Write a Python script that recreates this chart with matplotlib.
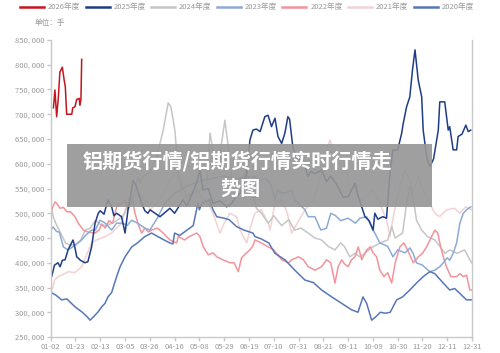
import matplotlib
matplotlib.use("Agg")
import matplotlib.pyplot as plt
from matplotlib.lines import Line2D
from matplotlib.patches import Rectangle
from matplotlib.ticker import FuncFormatter

plt.rcParams["font.family"] = ["Noto Sans CJK SC", "DejaVu Sans"]

TICK_LABELS = ["01-02", "01-23", "02-13", "03-05", "03-26", "04-16", "05-08",
               "05-29", "06-19", "07-10", "07-31", "08-21", "09-11", "10-09",
               "10-30", "11-20", "12-11", "12-31"]

# x in tick units (0 = 01-02, 17 = 12-31), y in thousand lots
x2026 = [0.11, 0.17, 0.24, 0.31, 0.37, 0.47, 0.54, 0.59, 0.645, 0.78, 0.85,
         0.89, 0.98, 1.05, 1.15, 1.18, 1.22, 1.25]
y2026 = [713, 749, 695, 735, 785, 795, 770, 755, 700, 700, 700, 713, 715, 730,
         732, 718, 730, 811]

x2025 = [0.0, 0.04, 0.15, 0.29, 0.38, 0.47, 0.58, 0.70, 0.90, 0.98, 1.05, 1.2,
         1.38, 1.5, 1.65, 1.79, 1.92, 2.0, 2.15, 2.31, 2.46, 2.55, 2.66, 2.86,
         3.0, 3.12, 3.33, 3.45, 3.67, 3.8, 3.92, 4.01, 4.41, 4.81, 5.0, 5.34,
         5.5, 5.89, 6.02, 6.14, 6.36, 6.55, 6.83, 7.10, 7.3, 7.50, 7.64, 7.91,
         8.04, 8.16, 8.3, 8.45, 8.64, 8.77, 8.91, 9.05, 9.17, 9.32, 9.45, 9.57,
         9.64, 9.77, 9.92, 10.1, 10.26, 10.38, 10.5, 10.66, 10.93, 11.13, 11.3,
         11.59, 11.79, 12.0, 12.28, 12.4, 12.55, 12.68, 12.85, 13.01, 13.08,
         13.2, 13.40, 13.55, 13.69, 13.81, 14.0, 14.16, 14.22, 14.36, 14.49,
         14.6, 14.70, 14.83, 14.97, 15.03, 15.17, 15.30, 15.45, 15.64, 15.70,
         15.9, 16.04, 16.1, 16.24, 16.38, 16.44, 16.6, 16.75, 16.85, 16.95]
y2025 = [378, 372, 395, 400, 392, 405, 406, 426, 446, 430, 412, 405, 400, 402,
         432, 480, 500, 505, 498, 527, 513, 495, 500, 493, 460, 507, 567, 555,
         520, 505, 500, 507, 493, 510, 500, 527, 515, 561, 587, 547, 550, 520,
         525, 513, 520, 535, 540, 581, 648, 668, 670, 665, 695, 698, 675, 692,
         655, 641, 662, 695, 690, 634, 611, 608, 594, 574, 585, 580, 587, 564,
         575, 554, 533, 533, 561, 535, 513, 493, 485, 466, 500, 488, 493, 490,
         581, 628, 628, 661, 680, 715, 735, 790, 830, 769, 735, 668, 614, 594,
         610, 668, 725, 725, 668, 675, 628, 628, 655, 660, 678, 665, 668]

x2024 = [0.0, 0.1, 0.2, 0.4, 0.6, 0.8, 1.0, 1.2, 1.4, 1.6, 1.8, 2.0, 2.2, 2.5,
         2.8, 3.0, 3.13, 3.33, 3.53, 3.6, 3.7, 3.94, 4.07, 4.28, 4.54, 4.74,
         4.85, 5.01, 5.15, 5.3, 5.49, 5.75, 6.02, 6.3, 6.43, 6.55, 6.7, 6.85,
         7.03, 7.15, 7.30, 7.5, 7.75, 7.9, 8.04, 8.2, 8.3, 8.5, 8.78, 9.0, 9.32,
         9.6, 9.85, 10.1, 10.39, 10.66, 10.93, 11.2, 11.47, 11.7, 11.85, 12.07,
         12.28, 12.48, 12.75, 13.0, 13.3, 13.6, 13.76, 13.9, 14.2, 14.36, 14.49,
         14.63, 14.76, 14.97, 15.2, 15.5, 15.7, 15.91, 16.1, 16.4, 16.7, 16.85,
         16.98]
y2024 = [520, 493, 480, 460, 440, 435, 437, 445, 466, 470, 485, 478, 475, 480,
         490, 500, 527, 533, 574, 560, 574, 581, 590, 614, 668, 723, 715, 668,
         581, 555, 533, 540, 547, 560, 662, 627, 600, 627, 688, 640, 574, 566,
         574, 590, 540, 532, 510, 500, 480, 495, 475, 487, 466, 470, 460, 450,
         446, 433, 426, 440, 433, 412, 419, 412, 422, 432, 440, 446, 473, 450,
         460, 520, 554, 530, 486, 466, 453, 446, 433, 419, 426, 419, 426, 412,
         400]

x2023 = [0.0, 0.1, 0.24, 0.35, 0.51, 0.7, 0.98, 1.25, 1.4, 1.65, 1.8, 1.99,
         2.2, 2.46, 2.66, 2.86, 3.1, 3.27, 3.5, 3.8, 4.0, 4.3, 4.6, 5.0, 5.5,
         6.0, 6.5, 7.0, 7.5, 8.24, 8.45, 8.64, 8.85, 9.05, 9.17, 9.32, 9.57,
         9.72, 9.85, 10.0, 10.26, 10.39, 10.66, 10.9, 11.13, 11.3, 11.5, 11.7,
         12.0, 12.3, 12.48, 12.75, 13.01, 13.1, 13.28, 13.6, 13.81, 14.0, 14.3,
         14.5, 14.63, 14.76, 15.0, 15.30, 15.5, 15.7, 15.84, 16.0, 16.1, 16.24,
         16.38, 16.51, 16.65, 16.78, 16.95]
y2023 = [466, 472, 463, 462, 432, 426, 435, 446, 455, 466, 466, 486, 480, 466,
         480, 480, 476, 486, 480, 470, 466, 490, 520, 540, 555, 565, 570, 575,
         570, 574, 566, 570, 562, 527, 547, 540, 543, 547, 527, 520, 507, 493,
         493, 466, 470, 500, 495, 485, 490, 480, 490, 493, 466, 458, 440, 433,
         412, 426, 420, 430, 418, 400, 395, 382, 385, 392, 400, 410, 405, 419,
         440, 480, 500, 507, 513]

x2022 = [0.0, 0.04, 0.17, 0.24, 0.38, 0.51, 0.65, 0.8, 0.98, 1.11, 1.32, 1.5,
         1.79, 1.95, 2.06, 2.2, 2.35, 2.5, 2.66, 3.0, 3.12, 3.3, 3.4, 3.53,
         3.67, 3.8, 3.94, 4.07, 4.3, 4.54, 4.81, 5.08, 5.15, 5.4, 5.6, 5.89,
         6.02, 6.16, 6.36, 6.55, 6.7, 6.95, 7.23, 7.4, 7.57, 7.7, 7.9, 8.04,
         8.16, 8.24, 8.5, 8.78, 9.0, 9.32, 9.6, 9.72, 10.0, 10.2, 10.39, 10.66,
         10.93, 11.13, 11.3, 11.47, 11.6, 11.74, 11.85, 12.0, 12.14, 12.28,
         12.41, 12.48, 12.55, 12.75, 12.9, 13.01, 13.15, 13.28, 13.45, 13.6,
         13.76, 13.9, 14.09, 14.25, 14.4, 14.63, 14.83, 15.0, 15.17, 15.37,
         15.50, 15.62, 15.7, 15.84, 15.97, 16.15, 16.38, 16.51, 16.65, 16.78,
         16.91, 16.98]
y2022 = [500, 507, 523, 520, 510, 512, 503, 503, 493, 480, 466, 462, 460, 466,
         478, 470, 485, 480, 513, 527, 507, 527, 500, 478, 460, 470, 462, 466,
         470, 460, 446, 440, 453, 446, 453, 460, 453, 432, 416, 420, 412, 406,
         400, 400, 382, 410, 420, 426, 434, 446, 440, 432, 426, 406, 400, 406,
         412, 406, 392, 385, 392, 406, 400, 359, 392, 406, 398, 392, 406, 412,
         432, 420, 406, 426, 432, 420, 412, 385, 372, 380, 359, 400, 432, 440,
         426, 400, 412, 419, 432, 453, 466, 460, 440, 412, 392, 372, 372, 378,
         372, 375, 345, 345]

x2021 = [0.0, 0.10, 0.15, 0.29, 0.44, 0.71, 0.98, 1.25, 1.4, 1.65, 1.85, 2.19,
         2.46, 2.66, 2.86, 3.0, 3.2, 3.33, 3.6, 3.9, 4.01, 4.41, 4.81, 5.08,
         5.2, 5.34, 5.6, 5.89, 6.16, 6.36, 6.55, 6.83, 7.0, 7.23, 7.5, 7.64,
         7.91, 8.05, 8.24, 8.5, 8.78, 8.85, 9.05, 9.32, 9.55, 9.72, 9.95, 10.26,
         10.6, 10.93, 11.13, 11.27, 11.4, 11.59, 11.8, 11.95, 12.07, 12.3, 12.5,
         12.75, 13.01, 13.28, 13.55, 13.69, 13.85, 14.09, 14.29, 14.49, 14.63,
         14.83, 15.03, 15.3, 15.50, 15.7, 15.97, 16.3, 16.5, 16.75, 16.98]
y2021 = [342, 352, 365, 372, 375, 382, 380, 392, 410, 440, 446, 453, 460, 470,
         480, 507, 520, 533, 540, 520, 507, 527, 567, 581, 565, 527, 540, 547,
         527, 520, 500, 460, 480, 500, 493, 466, 440, 470, 500, 507, 480, 466,
         520, 527, 500, 460, 480, 507, 527, 581, 628, 648, 628, 600, 608, 581,
         547, 554, 527, 534, 547, 520, 487, 453, 500, 554, 587, 567, 540, 574,
         547, 520, 500, 493, 507, 510, 500, 513, 507]

x2020 = [0.0, 0.04, 0.2, 0.44, 0.65, 0.98, 1.25, 1.45, 1.59, 1.75, 1.9, 2.06,
         2.19, 2.31, 2.46, 2.66, 2.80, 3.0, 3.27, 3.5, 3.80, 4.07, 4.25, 4.5,
         4.81, 4.93, 5.0, 5.2, 5.5, 5.75, 5.94, 6.0, 6.1, 6.4, 6.55, 6.7, 7.0,
         7.2, 7.5, 7.8, 8.16, 8.24, 8.5, 8.8, 9.05, 9.45, 9.85, 10.26, 10.6,
         10.93, 11.34, 11.74, 12.14, 12.4, 12.6, 12.75, 12.95, 13.1, 13.3, 13.5,
         13.7, 13.96, 14.2, 14.49, 14.76, 15.03, 15.30, 15.5, 15.84, 16.1, 16.3,
         16.51, 16.78, 16.98]
y2020 = [349, 339, 335, 325, 327, 311, 301, 292, 284, 292, 300, 311, 318, 331,
         340, 372, 392, 412, 432, 440, 453, 460, 455, 448, 440, 438, 460, 455,
         466, 475, 520, 507, 520, 527, 507, 493, 490, 487, 473, 466, 460, 453,
         448, 440, 419, 406, 385, 365, 360, 345, 331, 318, 305, 300, 331, 318,
         284, 290, 300, 298, 300, 325, 331, 345, 359, 372, 382, 378, 359, 345,
         348, 338, 325, 325]

SERIES = [
    ("2026年度", x2026, y2026, "#c3151d"),
    ("2025年度", x2025, y2025, "#1f3d86"),
    ("2024年度", x2024, y2024, "#c6c6c6"),
    ("2023年度", x2023, y2023, "#8eaad6"),
    ("2022年度", x2022, y2022, "#f3939b"),
    ("2021年度", x2021, y2021, "#f2d2d5"),
    ("2020年度", x2020, y2020, "#5677b8"),
]
DRAW_ORDER = ["2021年度", "2024年度", "2022年度", "2023年度", "2020年度",
              "2025年度", "2026年度"]

W, H = 500, 353
fig = plt.figure(figsize=(5.0, 3.53), dpi=100)
ax = fig.add_axes([0.1014, 0.0453, 0.8426, 0.8414])

lookup = {s[0]: s for s in SERIES}
for name in DRAW_ORDER:
    _, xs, ys, col = lookup[name]
    ax.plot(xs, [v * 1000 for v in ys], color=col, lw=1.1)

ax.set_xlim(0, 17)
ax.set_ylim(250000, 850000)
ax.set_xticks(range(len(TICK_LABELS)))
ax.set_xticklabels(TICK_LABELS)
ax.set_yticks(range(250000, 850001, 50000))
ax.yaxis.set_major_formatter(FuncFormatter(lambda v, p: f"{int(v):,}".replace(",", ", ")))

ax.spines["top"].set_visible(False)
for side in ["left", "bottom", "right"]:
    ax.spines[side].set_color("#c8c8c8")
    ax.spines[side].set_linewidth(1.0)
ax.tick_params(axis="both", colors="#c8c8c8", labelcolor="#9a9a9a",
               labelsize=5.5, length=3, width=1.0, pad=1.5)

# legend row drawn by hand so it spans the same width as the reference
for i, (name, _, _, col) in enumerate(SERIES):
    x0 = 20 + i * 65.6
    fig.add_artist(Line2D([x0 / W, (x0 + 24) / W], [1 - 7 / H, 1 - 7 / H],
                          color=col, lw=1.8, transform=fig.transFigure))
    fig.text((x0 + 28) / W, 1 - 7 / H, name, fontsize=5.5, color="#9a9a9a",
             va="center", ha="left")

fig.text(35 / W, 1 - 23 / H, "单位：手", fontsize=5.5, color="#9a9a9a",
         va="center", ha="left")

fig.patches.append(Rectangle((67 / W, 1 - 207 / H), 365 / W, 63 / H,
                             transform=fig.transFigure, facecolor="#959595",
                             alpha=0.9, edgecolor="none", zorder=5))
fig.text(237.5 / W, 1 - 161 / H, "铝期货行情/铝期货行情实时行情走",
         color="white", fontsize=14.5, fontweight="bold", ha="center",
         va="center", zorder=6)
fig.text(240 / W, 1 - 188 / H, "势图", color="white", fontsize=14.5,
         fontweight="bold", ha="center", va="center", zorder=6)

fig.savefig("out.png", dpi=100)
